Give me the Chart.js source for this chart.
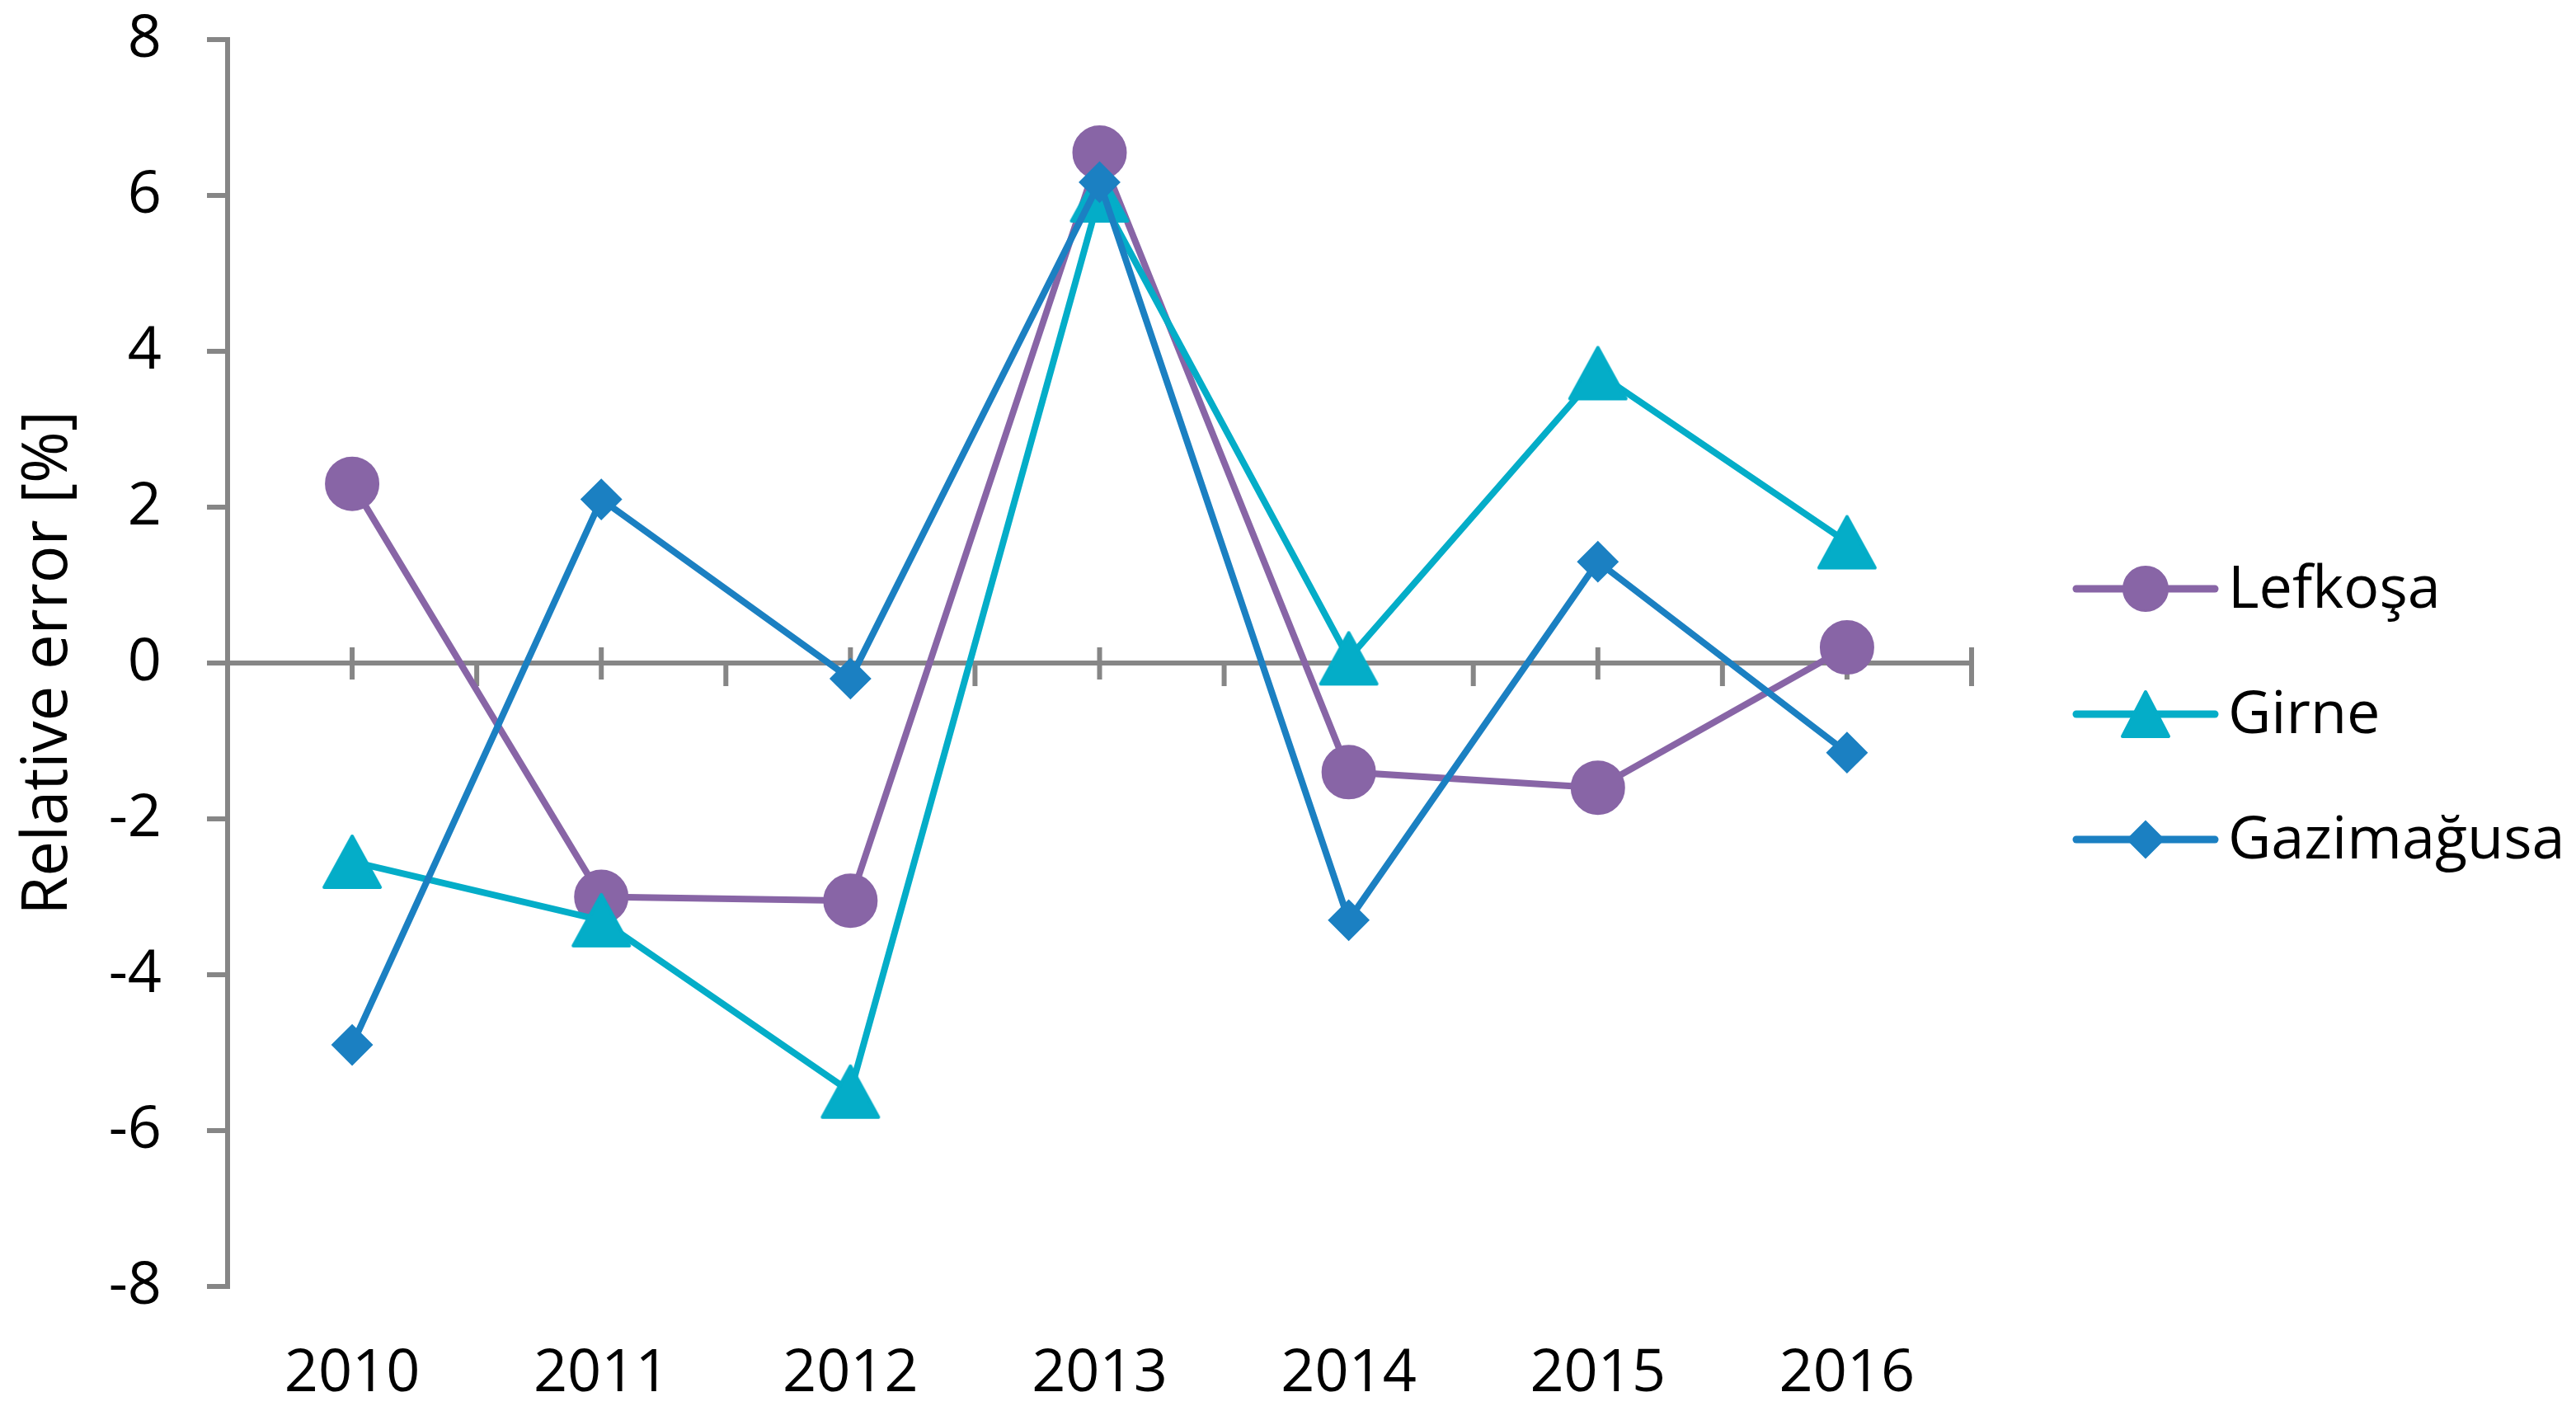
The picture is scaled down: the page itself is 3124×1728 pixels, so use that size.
<!DOCTYPE html>
<html>
<head>
<meta charset="utf-8">
<script src="https://cdn.jsdelivr.net/npm/chart.js@4/dist/chart.umd.min.js"></script>
<style>
  html, body { margin: 0; padding: 0; background: #fff; }
  canvas { display: block; }
</style>
</head>
<body>
<canvas id="lineChart" width="3124" height="1728"></canvas>
<script>
var years      = ['2010', '2011', '2012', '2013', '2014', '2015', '2016'];
var lefkosa    = [2.3, -3.0, -3.05, 6.55, -1.4, -1.6, 0.2];
var girne      = [-2.55, -3.3, -5.5, 6.0, 0.06, 3.72, 1.55];
var gazimagusa = [-4.9, 2.1, -0.2, 6.17, -3.3, 1.3, -1.15];
var yTicks     = [-8, -6, -4, -2, 0, 2, 4, 6, 8];

var grey = '#868686';
var fontName = "'Open Sans', sans-serif";

// triangulo centrado en su caja, como el marcador de Excel
function triangulo(w, h, color){
    var c = document.createElement('canvas');
    c.width = w + 6;
    c.height = h + 6;
    var t = c.getContext('2d');
    t.fillStyle = color;
    t.strokeStyle = color;
    t.lineWidth = 4;
    t.lineJoin = 'round';
    t.beginPath();
    t.moveTo(c.width / 2, 3);
    t.lineTo(w + 3, h + 3);
    t.lineTo(3, h + 3);
    t.closePath();
    t.fill();
    t.stroke();
    return c;
}

// eje horizontal en cero con sus marcas
var zeroAxis = {
    id: 'zeroAxis',
    beforeDatasetsDraw: function(chart){
        var ctx = chart.ctx, xs = chart.scales.x, ys = chart.scales.y;
        var area = chart.chartArea;
        var y0 = ys.getPixelForValue(0);
        ctx.save();
        ctx.strokeStyle = grey;
        ctx.lineWidth = 6;
        ctx.beginPath();
        ctx.moveTo(area.left, y0);
        ctx.lineTo(area.right, y0);
        for (var i = 0; i < years.length; i++) {
            var xc = xs.getPixelForValue(i);
            ctx.moveTo(xc, y0 - 19);
            ctx.lineTo(xc, y0 + 20);
            var last = i == years.length - 1;
            var xb = last ? area.right : (xc + xs.getPixelForValue(i + 1)) / 2;
            ctx.moveTo(xb, last ? y0 - 19 : y0);
            ctx.lineTo(xb, y0 + 28);
        }
        ctx.stroke();
        ctx.restore();
    }
};

// leyenda a la derecha: linea + marcador + nombre
var sideLegend = {
    id: 'sideLegend',
    afterDraw: function(chart){
        var ctx = chart.ctx;
        var x0 = chart.chartArea.right + 127;
        var yc = chart.height / 2 + 2;
        ctx.save();
        chart.data.datasets.forEach(function(ds, i){
            var y = yc + (i - 1) * 152;
            ctx.strokeStyle = ds.borderColor;
            ctx.lineWidth = 9;
            ctx.lineCap = 'round';
            ctx.beginPath();
            ctx.moveTo(x0, y);
            ctx.lineTo(x0 + 168, y);
            ctx.stroke();
            ctx.fillStyle = ds.borderColor;
            ctx.lineWidth = 2;
            if (ds.legendMark) {
                ctx.drawImage(ds.legendMark, x0 + 84 - ds.legendMark.width / 2, y - ds.legendMark.height / 2);
            } else {
                Chart.helpers.drawPoint(ctx, {pointStyle: ds.pointStyle, radius: ds.legendRadius, rotation: 0, borderWidth: 2}, x0 + 84, y);
            }
            ctx.fillStyle = '#000';
            ctx.font = '72px ' + fontName;
            ctx.textBaseline = 'middle';
            ctx.textAlign = 'left';
            ctx.fillText(ds.label, x0 + 184, y + 2);
        });
        ctx.restore();
    }
};

function serie(label, data, color, style, radius, order){
    return {
        label: label,
        data: data,
        borderColor: color,
        backgroundColor: color,
        borderWidth: 8,
        pointStyle: style,
        pointRadius: radius,
        pointHoverRadius: radius,
        pointBackgroundColor: color,
        pointBorderColor: color,
        pointBorderWidth: 2,
        tension: 0,
        fill: false,
        order: order
    };
}

var sLef = serie('Lefkoşa', lefkosa, '#8865A6', 'circle', 32, 3);
sLef.legendRadius = 27;
var sGir = serie('Girne', girne, '#04ADC8', triangulo(68, 62, '#04ADC8'), 34, 2);
sGir.legendMark = triangulo(56, 54, '#04ADC8');
var sGaz = serie('Gazimağusa', gazimagusa, '#1B80C2', 'rectRot', 24, 1);
sGaz.legendRadius = 22;

new Chart(document.getElementById('lineChart'), {
    type: 'line',
    data: {
        labels: years,
        datasets: [sLef, sGir, sGaz]
    },
    options: {
        responsive: false,
        devicePixelRatio: 1,
        animation: false,
        layout: { padding: { left: 6, top: 48, right: 733, bottom: 0 } },
        plugins: {
            legend: { display: false },
            tooltip: { enabled: false }
        },
        scales: {
            x: {
                offset: true,
                grid: { display: false, drawTicks: false },
                border: { display: false },
                ticks: { color: '#000', font: { family: fontName, size: 72 }, padding: 63, maxRotation: 0 },
                afterFit: function(scale){
                    scale.height = 168;
                    scale.paddingLeft = 0;
                    scale.paddingRight = 0;
                }
            },
            y: {
                min: -8,
                max: 8,
                afterBuildTicks: function(scale){
                    scale.ticks = yTicks.map(function(v){ return { value: v }; });
                },
                afterFit: function(scale){
                    scale.width = 270;
                    scale.paddingTop = 0;
                    scale.paddingBottom = 0;
                },
                grid: { drawOnChartArea: false, color: grey, lineWidth: 6, tickLength: 25 },
                border: { color: grey, width: 6 },
                ticks: { color: '#000', font: { family: fontName, size: 72 }, padding: 55 },
                title: {
                    display: true,
                    text: 'Relative error [%]',
                    color: '#000',
                    font: { family: fontName, size: 76 },
                    padding: { top: 8, bottom: 30 }
                }
            }
        }
    },
    plugins: [zeroAxis, sideLegend]
});
</script>
</body>
</html>
